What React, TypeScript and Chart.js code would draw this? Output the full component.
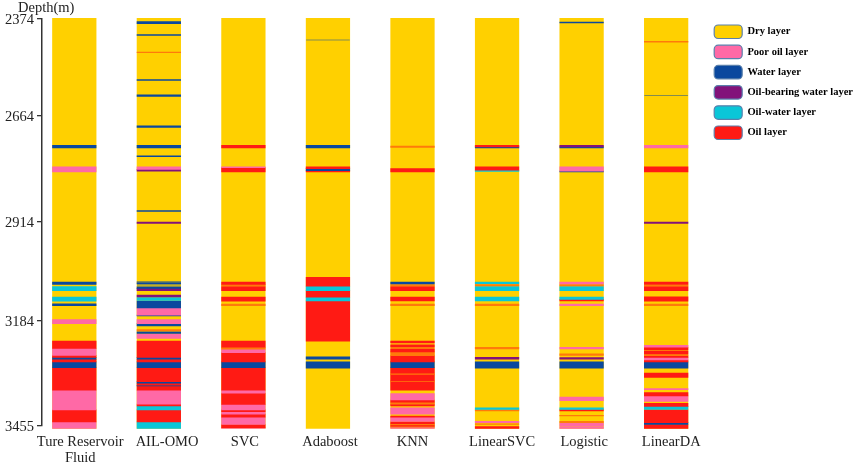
import { useEffect, useRef } from "react";
import { Chart, LinearScale, registerables, type Plugin } from "chart.js";

const FONT_FAMILY = "'Liberation Serif', serif";

const layerNames = ["Dry layer", "Poor oil layer", "Water layer", "Oil-bearing water layer", "Oil-water layer", "Oil layer"];
// the seventh colour is for thin oil seams, which the figure smears to orange; it has no legend entry
const layerColors = ["#FFD000", "#FF69A6", "#0A489E", "#82127A", "#0AC6D8", "#FF1A14", "#FF7A0A"];
const [, POOR, WATER, BEARING, MIXED, OIL, SEAM] = [0, 1, 2, 3, 4, 5, 6];

const wellNames = ["Ture Reservoir|Fluid", "AIL-OMO", "SVC", "Adaboost", "KNN", "LinearSVC", "Logistic", "LinearDA"];
// the captions in the figure sit slightly off their columns
const captionPlaces = [0.07, 1.097, 2.018, 3.024, 4, 5.06, 6.03, 7.06];
const depthTicks = [2374, 2664, 2914, 3184, 3455];
// the published axis is not evenly spaced, so each tick keeps its own share of the height
const tickShares = [0, 0.2398, 0.5, 0.743, 1];
const wellTop = 2374;
const wellBottom = 3462;

type Band = [number, number, number];

const ture: Band[] = [
  [2733, 2739, WATER], [2784, 2796, POOR], [3078, 3084, WATER], [3090, 3101, MIXED], [3119, 3130, MIXED],
  [3137, 3142, WATER], [3180, 3191, POOR], [3236, 3255, OIL], [3255, 3273, POOR], [3273, 3278, OIL],
  [3278, 3283, WATER], [3283, 3290, OIL], [3290, 3305, WATER], [3305, 3363, OIL], [3363, 3414, POOR],
  [3414, 3445, OIL], [3445, 3462, POOR],
];
const ailOmo: Band[] = [
  [2384, 2390, WATER], [2422, 2425, WATER], [2474, 2476, SEAM], [2556, 2558.5, WATER], [2601, 2606, WATER],
  [2687, 2691, WATER], [2733, 2739, WATER], [2758, 2760, WATER], [2784, 2790, POOR], [2790, 2794, BEARING],
  [2887, 2889, WATER], [2914, 2918, BEARING], [3077, 3079, WATER], [3081, 3083, WATER], [3085, 3086.5, WATER],
  [3091, 3095, WATER], [3095, 3101, BEARING], [3113, 3118, BEARING], [3120, 3128, MIXED], [3130, 3148, WATER],
  [3148, 3168, POOR], [3168, 3170, WATER], [3180, 3191, POOR], [3191, 3197, WATER], [3206, 3210, SEAM],
  [3212, 3216, WATER], [3218, 3229, POOR], [3236, 3278, OIL], [3278, 3283, WATER], [3283, 3290, OIL],
  [3290, 3305, WATER], [3305, 3341, OIL], [3341, 3345, WATER], [3345, 3350, OIL], [3350, 3352, WATER],
  [3352, 3363, OIL], [3363, 3399, POOR], [3399, 3404, OIL], [3404, 3414, MIXED], [3414, 3445, OIL], [3445, 3462, MIXED],
];
const svc: Band[] = [
  [2733, 2739, OIL], [2784, 2786, POOR], [2786, 2796, OIL], [3078, 3084, OIL], [3085, 3088, SEAM], [3090, 3101, OIL],
  [3119, 3130, OIL], [3138, 3142, SEAM], [3236, 3252, OIL], [3252, 3257, SEAM], [3257, 3266, POOR], [3266, 3290, OIL],
  [3290, 3305, WATER], [3305, 3363, OIL], [3363, 3371, POOR], [3371, 3400, OIL], [3400, 3414, POOR], [3414, 3419, OIL],
  [3419, 3425, POOR], [3425, 3433, OIL], [3433, 3452, POOR], [3452, 3460, OIL], [3460, 3462, POOR],
];
const adaboost: Band[] = [
  [2437.5, 2439, WATER], [2733, 2739, WATER], [2784, 2788, OIL], [2788, 2793, WATER], [2793, 2796, OIL],
  [3065, 3089, OIL], [3089, 3101, MIXED], [3101, 3119, OIL], [3119, 3129, MIXED], [3129, 3236, OIL],
  [3277, 3283, WATER], [3290, 3306, WATER],
];
const knn: Band[] = [
  [2735, 2738, SEAM], [2788, 2796, OIL], [3078, 3083, WATER], [3085, 3088, SEAM], [3090, 3101, OIL], [3119, 3129, OIL],
  [3138, 3142, SEAM], [3236, 3241, OIL], [3246, 3252, OIL], [3256, 3264, OIL], [3264, 3274, SEAM], [3274, 3290, OIL],
  [3290, 3305, WATER], [3305, 3319, OIL], [3319, 3322, SEAM], [3322, 3339, OIL], [3339, 3341, SEAM], [3341, 3363, OIL],
  [3372, 3388, POOR], [3389, 3394, OIL], [3394, 3399, SEAM], [3399, 3404, OIL], [3409, 3425, POOR], [3430, 3433, OIL],
  [3433, 3444, POOR], [3445, 3450, OIL], [3450, 3453, SEAM], [3453, 3456, OIL], [3456, 3459, SEAM], [3459, 3462, POOR],
];
const linearSvc: Band[] = [
  [2733, 2737, OIL], [2737, 2739, WATER], [2784, 2792, OIL], [2792, 2795, MIXED], [3078, 3082, MIXED], [3085, 3088, SEAM],
  [3090, 3101, MIXED], [3119, 3129, MIXED], [3138, 3142, SEAM], [3252, 3256, SEAM], [3278, 3283, BEARING], [3290, 3306, WATER],
  [3409, 3413, MIXED], [3414, 3417, SEAM], [3444, 3447, POOR], [3450, 3452, SEAM], [3457, 3462, OIL],
];
const logistic: Band[] = [
  [2385, 2388, WATER], [2733, 2737, BEARING], [2737, 2739, WATER], [2784, 2794, POOR], [2794, 2796, WATER],
  [3078, 3083, POOR], [3085, 3088, SEAM], [3090, 3101, MIXED], [3119, 3125, MIXED], [3125, 3129, OIL], [3138, 3142, POOR],
  [3252, 3256, POOR], [3269, 3273, SEAM], [3279, 3283, BEARING], [3290, 3306, WATER], [3381, 3390, POOR],
  [3409, 3413, MIXED], [3413, 3417, OIL], [3428, 3430, SEAM], [3444, 3447, SEAM], [3449, 3455, POOR], [3457, 3462, POOR],
];
const linearDa: Band[] = [
  [2442, 2445, SEAM], [2603, 2604.5, WATER], [2733, 2739, POOR], [2784, 2796, OIL], [2914, 2918, BEARING],
  [3078, 3084, OIL], [3086, 3088, SEAM], [3090, 3101, OIL], [3118, 3130, OIL], [3138, 3142, SEAM], [3247, 3252, POOR],
  [3252, 3258, OIL], [3261, 3270, OIL], [3272, 3274, SEAM], [3275, 3278, OIL], [3278, 3285, POOR], [3285, 3290, OIL],
  [3290, 3306, WATER], [3319, 3330, OIL], [3359, 3362, POOR], [3369, 3378, OIL], [3378, 3392, POOR], [3397, 3405, OIL],
  [3405, 3413, MIXED], [3414, 3447, OIL], [3447, 3452, WATER], [3452, 3462, OIL],
];
const wells = [ture, ailOmo, svc, adaboost, knn, linearSvc, logistic, linearDa];

// linear axis with uneven tick spacing, the bars still take real depths
class DepthScale extends LinearScale {
  static id = "depth";
  static defaults = LinearScale.defaults;
  getPixelForValue(value: number) {
    let i = 0;
    while (i < depthTicks.length - 2 && value > depthTicks[i + 1]) i++;
    const slope = (tickShares[i + 1] - tickShares[i]) / (depthTicks[i + 1] - depthTicks[i]);
    return this.getPixelForDecimal(tickShares[i] + (value - depthTicks[i]) * slope);
  }
}

Chart.register(...registerables, DepthScale);

const depthLabel: Plugin<"bar"> = {
  id: "depthLabel",
  afterDraw(chart) {
    const { ctx } = chart;
    ctx.save();
    ctx.font = `14.5px ${FONT_FAMILY}`;
    ctx.fillStyle = "#222";
    ctx.textBaseline = "middle";
    ctx.fillText("Depth(m)", 18, 8);
    ctx.restore();
  },
};

export default function App() {
  const canvasRef = useRef<HTMLCanvasElement>(null);

  useEffect(() => {
    if (!canvasRef.current) return;
    const base = { grouped: false, barThickness: 43.6, clip: false as const, borderWidth: 0 };
    // chart.js paints the first dataset last, so the dry background goes at the end
    const datasets = [
      ...wells.flatMap((bands, i) =>
        bands.map(([top, bottom, layer]) => ({
          ...base,
          label: layerNames[layer] ?? layerNames[OIL],
          backgroundColor: layerColors[layer],
          // hairlines stay faint, chart.js would otherwise fatten them
          inflateAmount: bottom - top < 2 ? 0 : ("auto" as const),
          data: [{ x: i, y: [top, bottom] }],
        }))
      ),
      {
        ...base,
        label: layerNames[0],
        backgroundColor: layerColors[0],
        data: wells.map((_, i) => ({ x: i, y: [wellTop, wellBottom] })),
      },
    ];

    const chart = new Chart(canvasRef.current, {
      type: "bar",
      data: { datasets: datasets as any },
      options: {
        responsive: false,
        animation: false,
        layout: { padding: { top: 18.3, left: 0, right: -5, bottom: 0 } },
        scales: {
          x: {
            type: "linear",
            offset: false,
            min: -0.382,
            max: 7.489,
            grid: { display: false, offset: false },
            border: { display: false },
            afterBuildTicks: (scale) => {
              scale.ticks = captionPlaces.map((value) => ({ value }));
            },
            afterFit: (scale) => {
              scale.height = 38.3;
            },
            ticks: {
              autoSkip: false,
              maxRotation: 0,
              padding: 1,
              color: "#222",
              font: { family: FONT_FAMILY, size: 14.5, lineHeight: 1.1 },
              callback: (_value, index) => wellNames[index].split("|"),
            },
          },
          y: {
            type: "depth" as any,
            min: wellTop,
            max: 3455,
            reverse: true,
            grid: { drawOnChartArea: false, color: "#333", tickLength: 5, lineWidth: 1.3 },
            border: { color: "#333", width: 1.5 },
            afterBuildTicks: (scale: any) => {
              scale.ticks = depthTicks.map((value) => ({ value }));
            },
            afterFit: (scale: any) => {
              scale.width = 42;
            },
            ticks: {
              autoSkip: false,
              padding: 3,
              labelOffset: 1.5,
              color: "#222",
              font: { family: FONT_FAMILY, size: 14.5 },
              callback: (value: any) => String(value),
            },
          } as any,
        },
        plugins: {
          tooltip: { enabled: false },
          legend: {
            position: "right",
            align: "start",
            onClick: () => {},
            labels: {
              boxWidth: 28,
              boxHeight: 13.5,
              padding: 6.7,
              useBorderRadius: true,
              borderRadius: 4,
              color: "#222",
              font: { family: FONT_FAMILY, size: 10.5, weight: "bold" },
              generateLabels: () =>
                layerNames.map((text, i) => ({
                  text,
                  fillStyle: layerColors[i],
                  strokeStyle: "#5A80AC",
                  lineWidth: 1.2,
                  hidden: false,
                  borderRadius: 4,
                })),
            },
          },
        },
      },
      plugins: [depthLabel],
    });
    return () => {
      chart.destroy();
    };
  }, []);

  return (
    <div style={{ position: "absolute", left: 0, top: 0, width: 858, height: 464, background: "#fff" }}>
      <canvas ref={canvasRef} width={858} height={464} style={{ display: "block", filter: "blur(0.35px)" }} />
    </div>
  );
}
